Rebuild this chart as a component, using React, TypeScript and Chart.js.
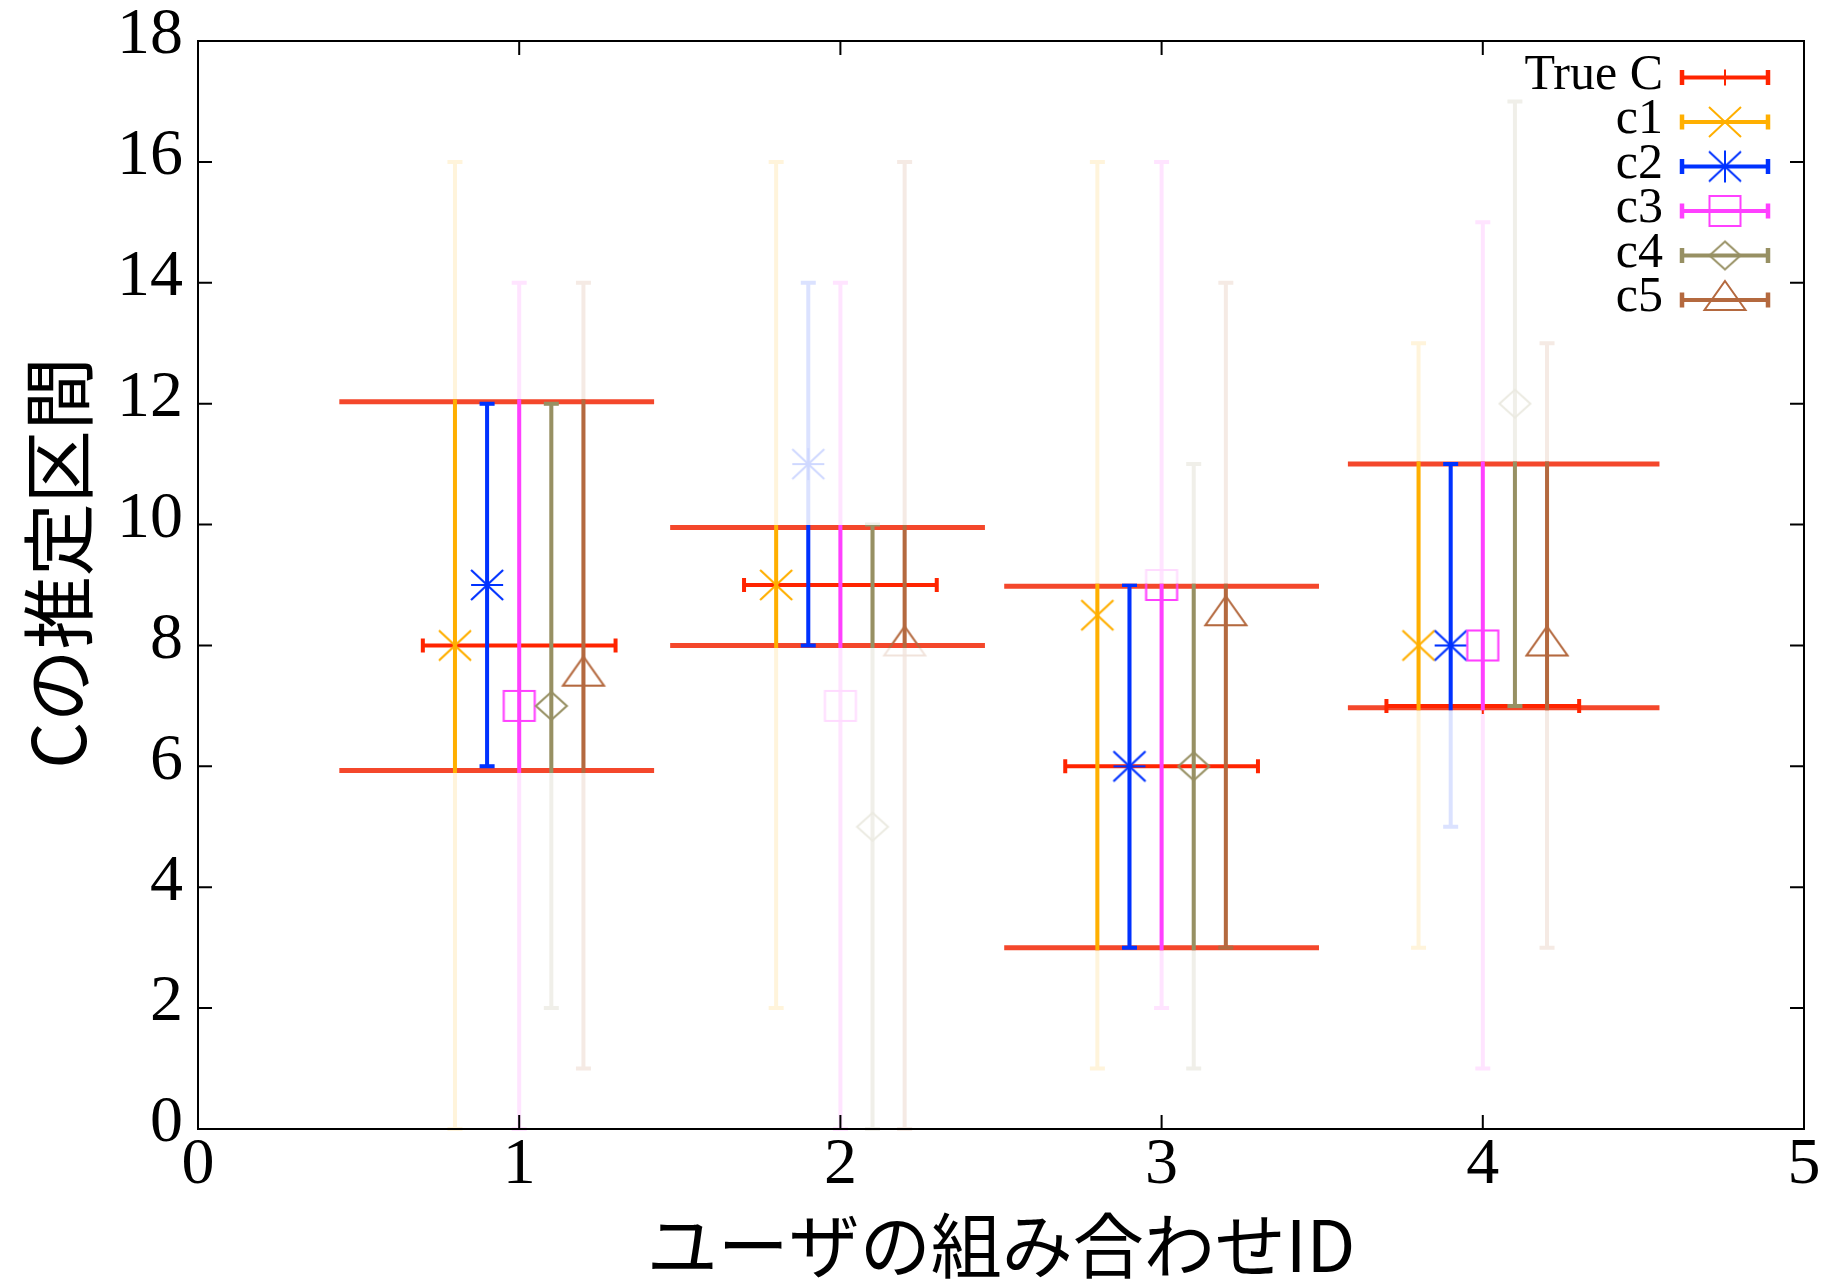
import { useEffect, useRef } from 'react';
import { Chart, registerables } from 'chart.js';

Chart.register(...registerables);

// ---------------- data ----------------
const groupIds = [1, 2, 3, 4];
const trueCValues = [8, 9, 6, 7];
const trueCHalfWidth = [0.3, 0.3, 0.3, 0.3];
const intervalLower = [5.93, 8.0, 3.0, 6.97];
const intervalUpper = [12.03, 9.95, 8.98, 11.0];
const intervalFrom = [0.44, 1.47, 2.51, 3.58];
const intervalTo = [1.42, 2.45, 3.49, 4.55];

const seriesNames = ['c1', 'c2', 'c3', 'c4', 'c5'];
const seriesOffsets = [-0.2, -0.1, 0, 0.1, 0.2];

const c1Values = [8, 9, 8.5, 8];
const c1Lower = [0, 2, 1, 3];
const c1Upper = [16, 16, 16, 13];

const c2Values = [9, 11, 6, 8];
const c2Lower = [6, 8, 3, 5];
const c2Upper = [12, 14, 9, 11];

const c3Values = [7, 7, 9, 8];
const c3Lower = [0, 0, 2, 1];
const c3Upper = [14, 14, 16, 15];

const c4Values = [7, 5, 6, 12];
const c4Lower = [2, 0, 1, 7];
const c4Upper = [12, 10, 11, 17];

const c5Values = [7.5, 8, 8.5, 8];
const c5Lower = [1, 0, 3, 3];
const c5Upper = [14, 16, 14, 13];

const xTickValues = [0, 1, 2, 3, 4, 5];
const yTickValues = [0, 2, 4, 6, 8, 10, 12, 14, 16, 18];
const xTitle = 'ユーザの組み合わせID';
const yTitle = 'Cの推定区間';
const trueCLabel = 'True C';

// ---------------- styles ----------------
const seriesColors = ['#ffaf00', '#0032ff', '#ff40ff', '#979063', '#b4693f'];
const seriesMarkers = ['x', 'star', 'square', 'diamond', 'triangle'];
const trueCColor = '#ff2400';
const intervalColor = '#f4472b';
const FAINT = 0.14;
const SERIF = '"Liberation Serif", "Times New Roman", serif';
const CJK = '"Noto Sans CJK JP", "Noto Sans", sans-serif';

const seriesValues = [c1Values, c2Values, c3Values, c4Values, c5Values];
const seriesLower = [c1Lower, c2Lower, c3Lower, c4Lower, c5Lower];
const seriesUpper = [c1Upper, c2Upper, c3Upper, c4Upper, c5Upper];

function fade(hex: string, a: number) {
  const n = parseInt(hex.slice(1), 16);
  const r = (n >> 16) & 255, g = (n >> 8) & 255, b = n & 255;
  const m = (c: number) => Math.round(255 - (255 - c) * a);
  return `rgb(${m(r)},${m(g)},${m(b)})`;
}

function traceMarker(ctx: CanvasRenderingContext2D, shape: string, cx: number, cy: number) {
  ctx.beginPath();
  switch (shape) {
    case 'x':
      ctx.moveTo(cx - 16, cy - 15); ctx.lineTo(cx + 16, cy + 15);
      ctx.moveTo(cx - 16, cy + 15); ctx.lineTo(cx + 16, cy - 15);
      break;
    case 'star':
      ctx.moveTo(cx - 16, cy - 15); ctx.lineTo(cx + 16, cy + 15);
      ctx.moveTo(cx - 16, cy + 15); ctx.lineTo(cx + 16, cy - 15);
      ctx.moveTo(cx - 16, cy); ctx.lineTo(cx + 16, cy);
      ctx.moveTo(cx, cy - 16); ctx.lineTo(cx, cy + 16);
      break;
    case 'square':
      ctx.rect(cx - 15.5, cy - 15, 31, 30);
      break;
    case 'diamond':
      ctx.moveTo(cx, cy - 14); ctx.lineTo(cx + 15.5, cy); ctx.lineTo(cx, cy + 14); ctx.lineTo(cx - 15.5, cy); ctx.closePath();
      break;
    case 'triangle':
      ctx.moveTo(cx, cy - 19); ctx.lineTo(cx + 20.5, cy + 10); ctx.lineTo(cx - 20.5, cy + 10); ctx.closePath();
      break;
    default:
      ctx.moveTo(cx - 8, cy); ctx.lineTo(cx + 8, cy);
      ctx.moveTo(cx, cy - 8); ctx.lineTo(cx, cy + 8);
  }
  ctx.stroke();
}

function makeMarker(shape: string, color: string) {
  const c = document.createElement('canvas');
  c.width = 48; c.height = 48;
  const ctx = c.getContext('2d')!;
  ctx.strokeStyle = color;
  ctx.lineWidth = 2;
  traceMarker(ctx, shape, 24, 24);
  return c;
}

function drawVBar(ctx: CanvasRenderingContext2D, x: number, yLo: number, yHi: number, color: string) {
  ctx.strokeStyle = color;
  ctx.lineWidth = 4;
  ctx.lineCap = 'butt';
  ctx.beginPath();
  ctx.moveTo(x, yLo); ctx.lineTo(x, yHi);
  ctx.moveTo(x - 7.5, yLo); ctx.lineTo(x + 7.5, yLo);
  ctx.moveTo(x - 7.5, yHi); ctx.lineTo(x + 7.5, yHi);
  ctx.stroke();
}

export default function App() {
  const ref = useRef<HTMLCanvasElement>(null);

  useEffect(() => {
    const canvas = ref.current!;
    const faintImages = seriesMarkers.map((m, i) => makeMarker(m, fade(seriesColors[i], FAINT + 0.05)));
    const solidImages = seriesMarkers.map((m, i) => makeMarker(m, seriesColors[i]));

    const topLine: any[] = [];
    const bottomLine: any[] = [];
    groupIds.forEach((_, gi) => {
      topLine.push({ x: intervalFrom[gi], y: intervalUpper[gi] }, { x: intervalTo[gi], y: intervalUpper[gi] }, { x: intervalTo[gi], y: null });
      bottomLine.push({ x: intervalFrom[gi], y: intervalLower[gi] }, { x: intervalTo[gi], y: intervalLower[gi] }, { x: intervalTo[gi], y: null });
    });

    const seriesDatasets = seriesNames.map((name, si) => ({
      type: 'scatter' as const,
      label: name,
      data: groupIds.map((g, gi) => ({ x: g + seriesOffsets[si], y: seriesValues[si][gi] })),
      pointStyle: faintImages[si],
      pointRadius: 16,
      showLine: false,
      order: 3,
    }));

    const datasets: any[] = [
      {
        type: 'scatter',
        label: trueCLabel,
        data: groupIds.map((g, gi) => ({ x: g, y: trueCValues[gi] })),
        pointStyle: 'cross',
        pointRadius: 8,
        borderColor: trueCColor,
        pointBorderWidth: 2,
        showLine: false,
        order: 0,
      },
      {
        type: 'line',
        label: 'interval-top',
        data: topLine,
        borderColor: intervalColor,
        borderWidth: 5,
        pointRadius: 0,
        spanGaps: false,
        borderCapStyle: 'butt',
        order: 1,
      },
      {
        type: 'line',
        label: 'interval-bottom',
        data: bottomLine,
        borderColor: intervalColor,
        borderWidth: 5,
        pointRadius: 0,
        spanGaps: false,
        borderCapStyle: 'butt',
        order: 1,
      },
      ...seriesDatasets,
    ];
    const firstSeriesIndex = 3;

    const gnuplotPlugin = {
      id: 'gnuplotLook',
      beforeDatasetsDraw(chart: any) {
        const { ctx } = chart;
        const xs = chart.scales.x, ys = chart.scales.y;
        ctx.save();
        seriesNames.forEach((_, si) => {
          groupIds.forEach((g, gi) => {
            drawVBar(ctx, xs.getPixelForValue(g + seriesOffsets[si]),
              ys.getPixelForValue(seriesLower[si][gi]), ys.getPixelForValue(seriesUpper[si][gi]),
              fade(seriesColors[si], FAINT));
          });
        });
        ctx.restore();
      },
      afterDatasetsDraw(chart: any) {
        const { ctx } = chart;
        const xs = chart.scales.x, ys = chart.scales.y;
        ctx.save();
        // True C horizontal error bars
        ctx.strokeStyle = trueCColor;
        ctx.lineWidth = 4;
        groupIds.forEach((g, gi) => {
          const y = ys.getPixelForValue(trueCValues[gi]);
          const xl = xs.getPixelForValue(g - trueCHalfWidth[gi]);
          const xr = xs.getPixelForValue(g + trueCHalfWidth[gi]);
          ctx.beginPath();
          ctx.moveTo(xl, y); ctx.lineTo(xr, y);
          ctx.moveTo(xl, y - 7); ctx.lineTo(xl, y + 7);
          ctx.moveTo(xr, y - 7); ctx.lineTo(xr, y + 7);
          ctx.stroke();
        });
        // Solid part inside each true interval
        groupIds.forEach((g, gi) => {
          const left = xs.getPixelForValue(intervalFrom[gi]);
          const right = xs.getPixelForValue(intervalTo[gi]);
          const top = ys.getPixelForValue(intervalUpper[gi]) - 2.5;
          const bottom = ys.getPixelForValue(intervalLower[gi]) + 2.5;
          ctx.save();
          ctx.beginPath();
          ctx.rect(left, top, right - left, bottom - top);
          ctx.clip();
          seriesNames.forEach((_, si) => {
            drawVBar(ctx, xs.getPixelForValue(g + seriesOffsets[si]),
              ys.getPixelForValue(seriesLower[si][gi]), ys.getPixelForValue(seriesUpper[si][gi]),
              seriesColors[si]);
          });
          seriesNames.forEach((_, si) => {
            const pt = chart.getDatasetMeta(firstSeriesIndex + si).data[gi];
            ctx.drawImage(solidImages[si], pt.x - 24, pt.y - 24);
          });
          ctx.restore();
        });
        ctx.restore();
      },
      afterDraw(chart: any) {
        const { ctx, chartArea } = chart;
        const xs = chart.scales.x, ys = chart.scales.y;
        const { left, right, top, bottom } = chartArea;
        ctx.save();
        // frame
        ctx.strokeStyle = '#000';
        ctx.lineWidth = 2;
        ctx.strokeRect(left, top, right - left, bottom - top);
        // inward ticks (mirrored)
        ctx.beginPath();
        yTickValues.forEach((v) => {
          const y = ys.getPixelForValue(v);
          ctx.moveTo(left, y); ctx.lineTo(left + 14, y);
          ctx.moveTo(right, y); ctx.lineTo(right - 14, y);
        });
        xTickValues.forEach((v) => {
          const x = xs.getPixelForValue(v);
          ctx.moveTo(x, bottom); ctx.lineTo(x, bottom - 14);
          ctx.moveTo(x, top); ctx.lineTo(x, top + 14);
        });
        ctx.stroke();

        // axis titles
        ctx.fillStyle = '#000';
        ctx.font = `71px ${CJK}`;
        ctx.textAlign = 'center';
        ctx.textBaseline = 'middle';
        ctx.fillText(xTitle, (left + right) / 2, 1245);
        ctx.save();
        ctx.translate(58, 563);
        ctx.rotate(-Math.PI / 2);
        ctx.font = `73px ${CJK}`;
        ctx.fillText(yTitle, 0, 0);
        ctx.restore();

        // legend
        const rowY = [77.5, 122, 166.5, 211, 255.5, 300];
        const x0 = 1682, x1 = 1768, xm = 1725;
        ctx.font = `50px ${SERIF}`;
        ctx.textAlign = 'right';
        ctx.textBaseline = 'middle';
        const labels = [trueCLabel, ...seriesNames];
        labels.forEach((lab, i) => {
          const y = rowY[i];
          ctx.fillStyle = '#000';
          ctx.fillText(lab, 1663, y - 2);
          const color = i === 0 ? trueCColor : seriesColors[i - 1];
          ctx.strokeStyle = color;
          ctx.lineWidth = 4;
          ctx.beginPath();
          ctx.moveTo(x0, y); ctx.lineTo(x1, y);
          ctx.stroke();
          ctx.lineWidth = 4.5;
          ctx.beginPath();
          ctx.moveTo(x0, y - 7.5); ctx.lineTo(x0, y + 7.5);
          ctx.moveTo(x1, y - 7.5); ctx.lineTo(x1, y + 7.5);
          ctx.stroke();
          if (i === 0) {
            ctx.lineWidth = 2;
            ctx.beginPath();
            ctx.moveTo(xm, y - 8); ctx.lineTo(xm, y + 8);
            ctx.stroke();
          } else {
            ctx.drawImage(solidImages[i - 1], xm - 24, y - 24);
          }
        });
        ctx.restore();
      },
    };

    const chart = new Chart(canvas, {
      type: 'scatter',
      data: { datasets },
      options: {
        responsive: false,
        devicePixelRatio: 1,
        animation: false,
        events: [],
        layout: { padding: { top: 41, right: 25, left: 0, bottom: 0 } },
        plugins: { legend: { display: false }, tooltip: { enabled: false }, title: { display: false } },
        scales: {
          x: {
            type: 'linear',
            min: 0,
            max: 5,
            grid: { display: false, drawTicks: false },
            border: { display: false },
            afterBuildTicks: (s: any) => { s.ticks = xTickValues.map((v) => ({ value: v })); },
            afterFit: (s: any) => { s.height = 151; },
            ticks: {
              font: { family: SERIF, size: 66, lineHeight: 1 },
              color: '#000',
              padding: 4,
              maxRotation: 0,
              autoSkip: false,
            },
          },
          y: {
            type: 'linear',
            min: 0,
            max: 18,
            grid: { display: false, drawTicks: false },
            border: { display: false },
            afterBuildTicks: (s: any) => { s.ticks = yTickValues.map((v) => ({ value: v })); },
            afterFit: (s: any) => { s.width = 198; },
            ticks: {
              font: { family: SERIF, size: 66, lineHeight: 0.7 },
              color: '#000',
              padding: 15,
              labelOffset: -5,
              autoSkip: false,
            },
          },
        },
      },
      plugins: [gnuplotPlugin],
    } as any);

    return () => chart.destroy();
  }, []);

  return (
    <div style={{ position: 'absolute', left: 0, top: 0, width: 1829, height: 1280, background: '#fff' }}>
      <canvas ref={ref} width={1829} height={1280} style={{ display: 'block', width: 1829, height: 1280 }} />
    </div>
  );
}
